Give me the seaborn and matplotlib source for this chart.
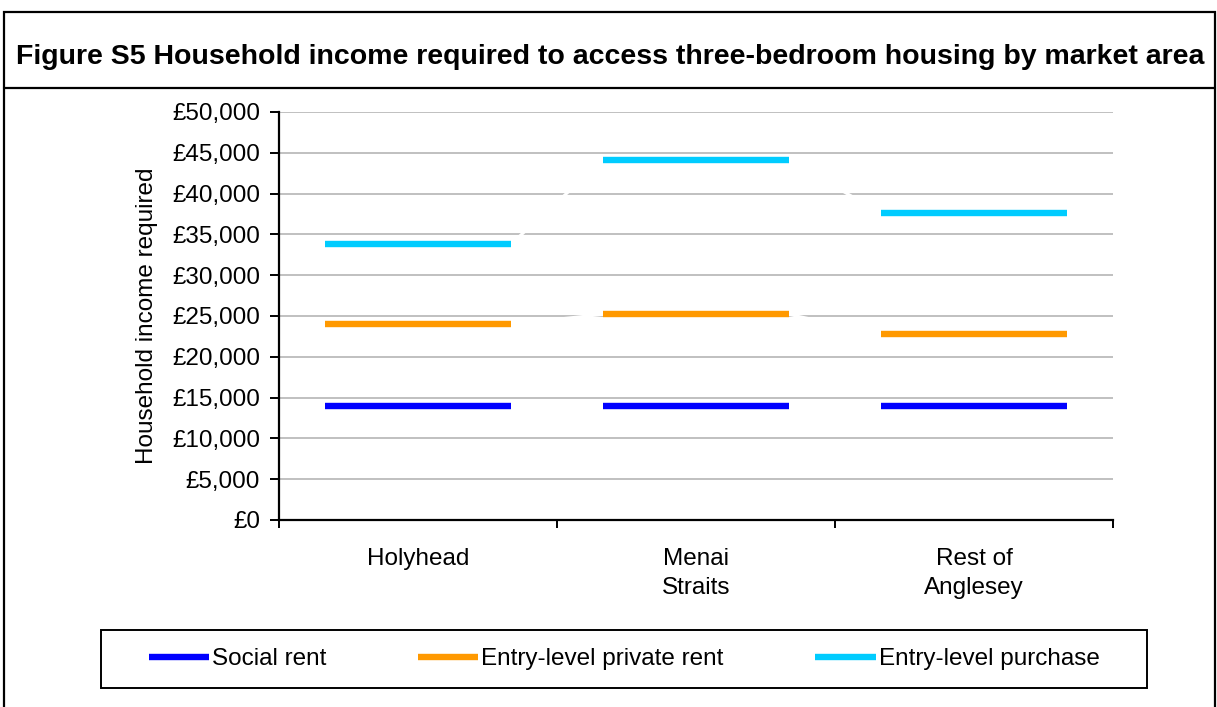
import matplotlib
matplotlib.use("Agg")
import matplotlib.pyplot as plt
from matplotlib.patches import Rectangle
from matplotlib.lines import Line2D
from matplotlib.ticker import FuncFormatter, FixedLocator
import seaborn as sns
import pandas as pd
import numpy as np

# ---- data ----
areas = ["Holyhead", "Menai\nStraits", "Rest of\nAnglesey"]
series_names = ["Social rent", "Entry-level private rent", "Entry-level purchase"]
social_rent = [14000, 14000, 14000]
private_rent = [24000, 25200, 22800]
purchase = [33800, 44100, 37600]
colors = ["#0000FF", "#FF9900", "#00CCFF"]
title = "Figure S5 Household income required to access three-bedroom housing by market area"
ylabel = "Household income required"
yticks = [0, 5000, 10000, 15000, 20000, 25000, 30000, 35000, 40000, 45000, 50000]

sns.set_theme(style="white")
plt.rcParams["font.family"] = ["Liberation Sans", "DejaVu Sans"]
plt.rcParams["text.color"] = "black"
plt.rcParams["axes.labelcolor"] = "black"
plt.rcParams["xtick.color"] = "black"
plt.rcParams["ytick.color"] = "black"

W, H = 1217, 707
fig = plt.figure(figsize=(W / 100, H / 100), dpi=100)

def fx(px):
    return px / W

def fy(py):
    return 1 - py / H

L, R, T, B = 279, 1113, 112, 520
ax = fig.add_axes([fx(L), fy(B), fx(R) - fx(L), fy(T) - fy(B)])

half = 0.334
idx = np.arange(len(areas))

# white connecting lines (drawn through seaborn), running dash end -> next dash start
for vals in [social_rent, private_rent, purchase]:
    xs, ys = [], []
    for i, v in zip(idx, vals):
        xs += [i - half, i + half]
        ys += [v, v]
    df = pd.DataFrame({"x": xs, "y": ys})
    sns.lineplot(data=df, x="x", y="y", sort=False, color="white", lw=2.2, ax=ax, zorder=3)

# dashes
for vals, c, name in zip([social_rent, private_rent, purchase], colors, series_names):
    lc = ax.hlines(vals, idx - half, idx + half, colors=c, lw=4.6, zorder=4, label=name)
    lc.set_capstyle("butt")

ax.set_xlim(-0.5, len(areas) - 0.5)
ax.set_ylim(0, 50000)
ax.set_xlabel("")
ax.set_ylabel(ylabel, fontsize=17.5, labelpad=10, color="black")
ax.yaxis.set_major_locator(FixedLocator(yticks))
ax.yaxis.set_major_formatter(FuncFormatter(lambda v, p: "£{:,.0f}".format(v)))
ax.grid(axis="y", color="#c0c0c0", lw=1.4, zorder=0)
ax.grid(axis="x", visible=False)
ax.set_axisbelow(True)

ax.xaxis.set_major_locator(FixedLocator(np.arange(-0.5, len(areas), 1.0)))
ax.xaxis.set_major_formatter(FuncFormatter(lambda v, p: ""))
ax.xaxis.set_minor_locator(FixedLocator(idx))
ax.set_xticklabels(areas, minor=True)
ax.tick_params(axis="x", which="minor", length=0, pad=20, labelsize=17.5, labelcolor="black")
ax.tick_params(axis="x", which="major", direction="out", length=6, width=1.4, color="black", bottom=True)
ax.tick_params(axis="y", direction="out", length=6.5, width=1.4, color="black", left=True,
               labelsize=17.5, pad=7, labelcolor="black")
for lab in ax.get_xticklabels(minor=True):
    lab.set_linespacing(1.4)

for s in ["top", "right"]:
    ax.spines[s].set_visible(False)
for s in ["left", "bottom"]:
    ax.spines[s].set_color("black")
    ax.spines[s].set_linewidth(1.6)
ax.set_facecolor("white")

# outer frame and title line
fig.patches.append(Rectangle((fx(4), fy(H + 5)), fx(1215) - fx(4), fy(12) - fy(H + 5),
                             transform=fig.transFigure, fill=False, ec="black", lw=1.6))
fig.add_artist(Line2D([fx(4), fx(1215)], [fy(88), fy(88)], transform=fig.transFigure,
                      color="black", lw=1.6))
fig.text(fx(610), fy(57), title, ha="center", va="center", fontsize=20.5,
         fontweight="bold", color="black")

# legend
fig.patches.append(Rectangle((fx(101), fy(688)), fx(1147) - fx(101), fy(630) - fy(688),
                             transform=fig.transFigure, fill=False, ec="black", lw=1.4))
hs = [Line2D([0], [0], color=c, lw=4.6, solid_capstyle="butt") for c in colors]
leg = fig.legend(hs, series_names, loc="center", bbox_to_anchor=(fx(624), fy(659)), ncol=3,
                 frameon=False, fontsize=17.5, handlelength=2.5, handletextpad=0.12,
                 columnspacing=3.75, borderpad=0)
for t in leg.get_texts():
    t.set_color("black")

fig.savefig("out.png", dpi=100, facecolor="white")
